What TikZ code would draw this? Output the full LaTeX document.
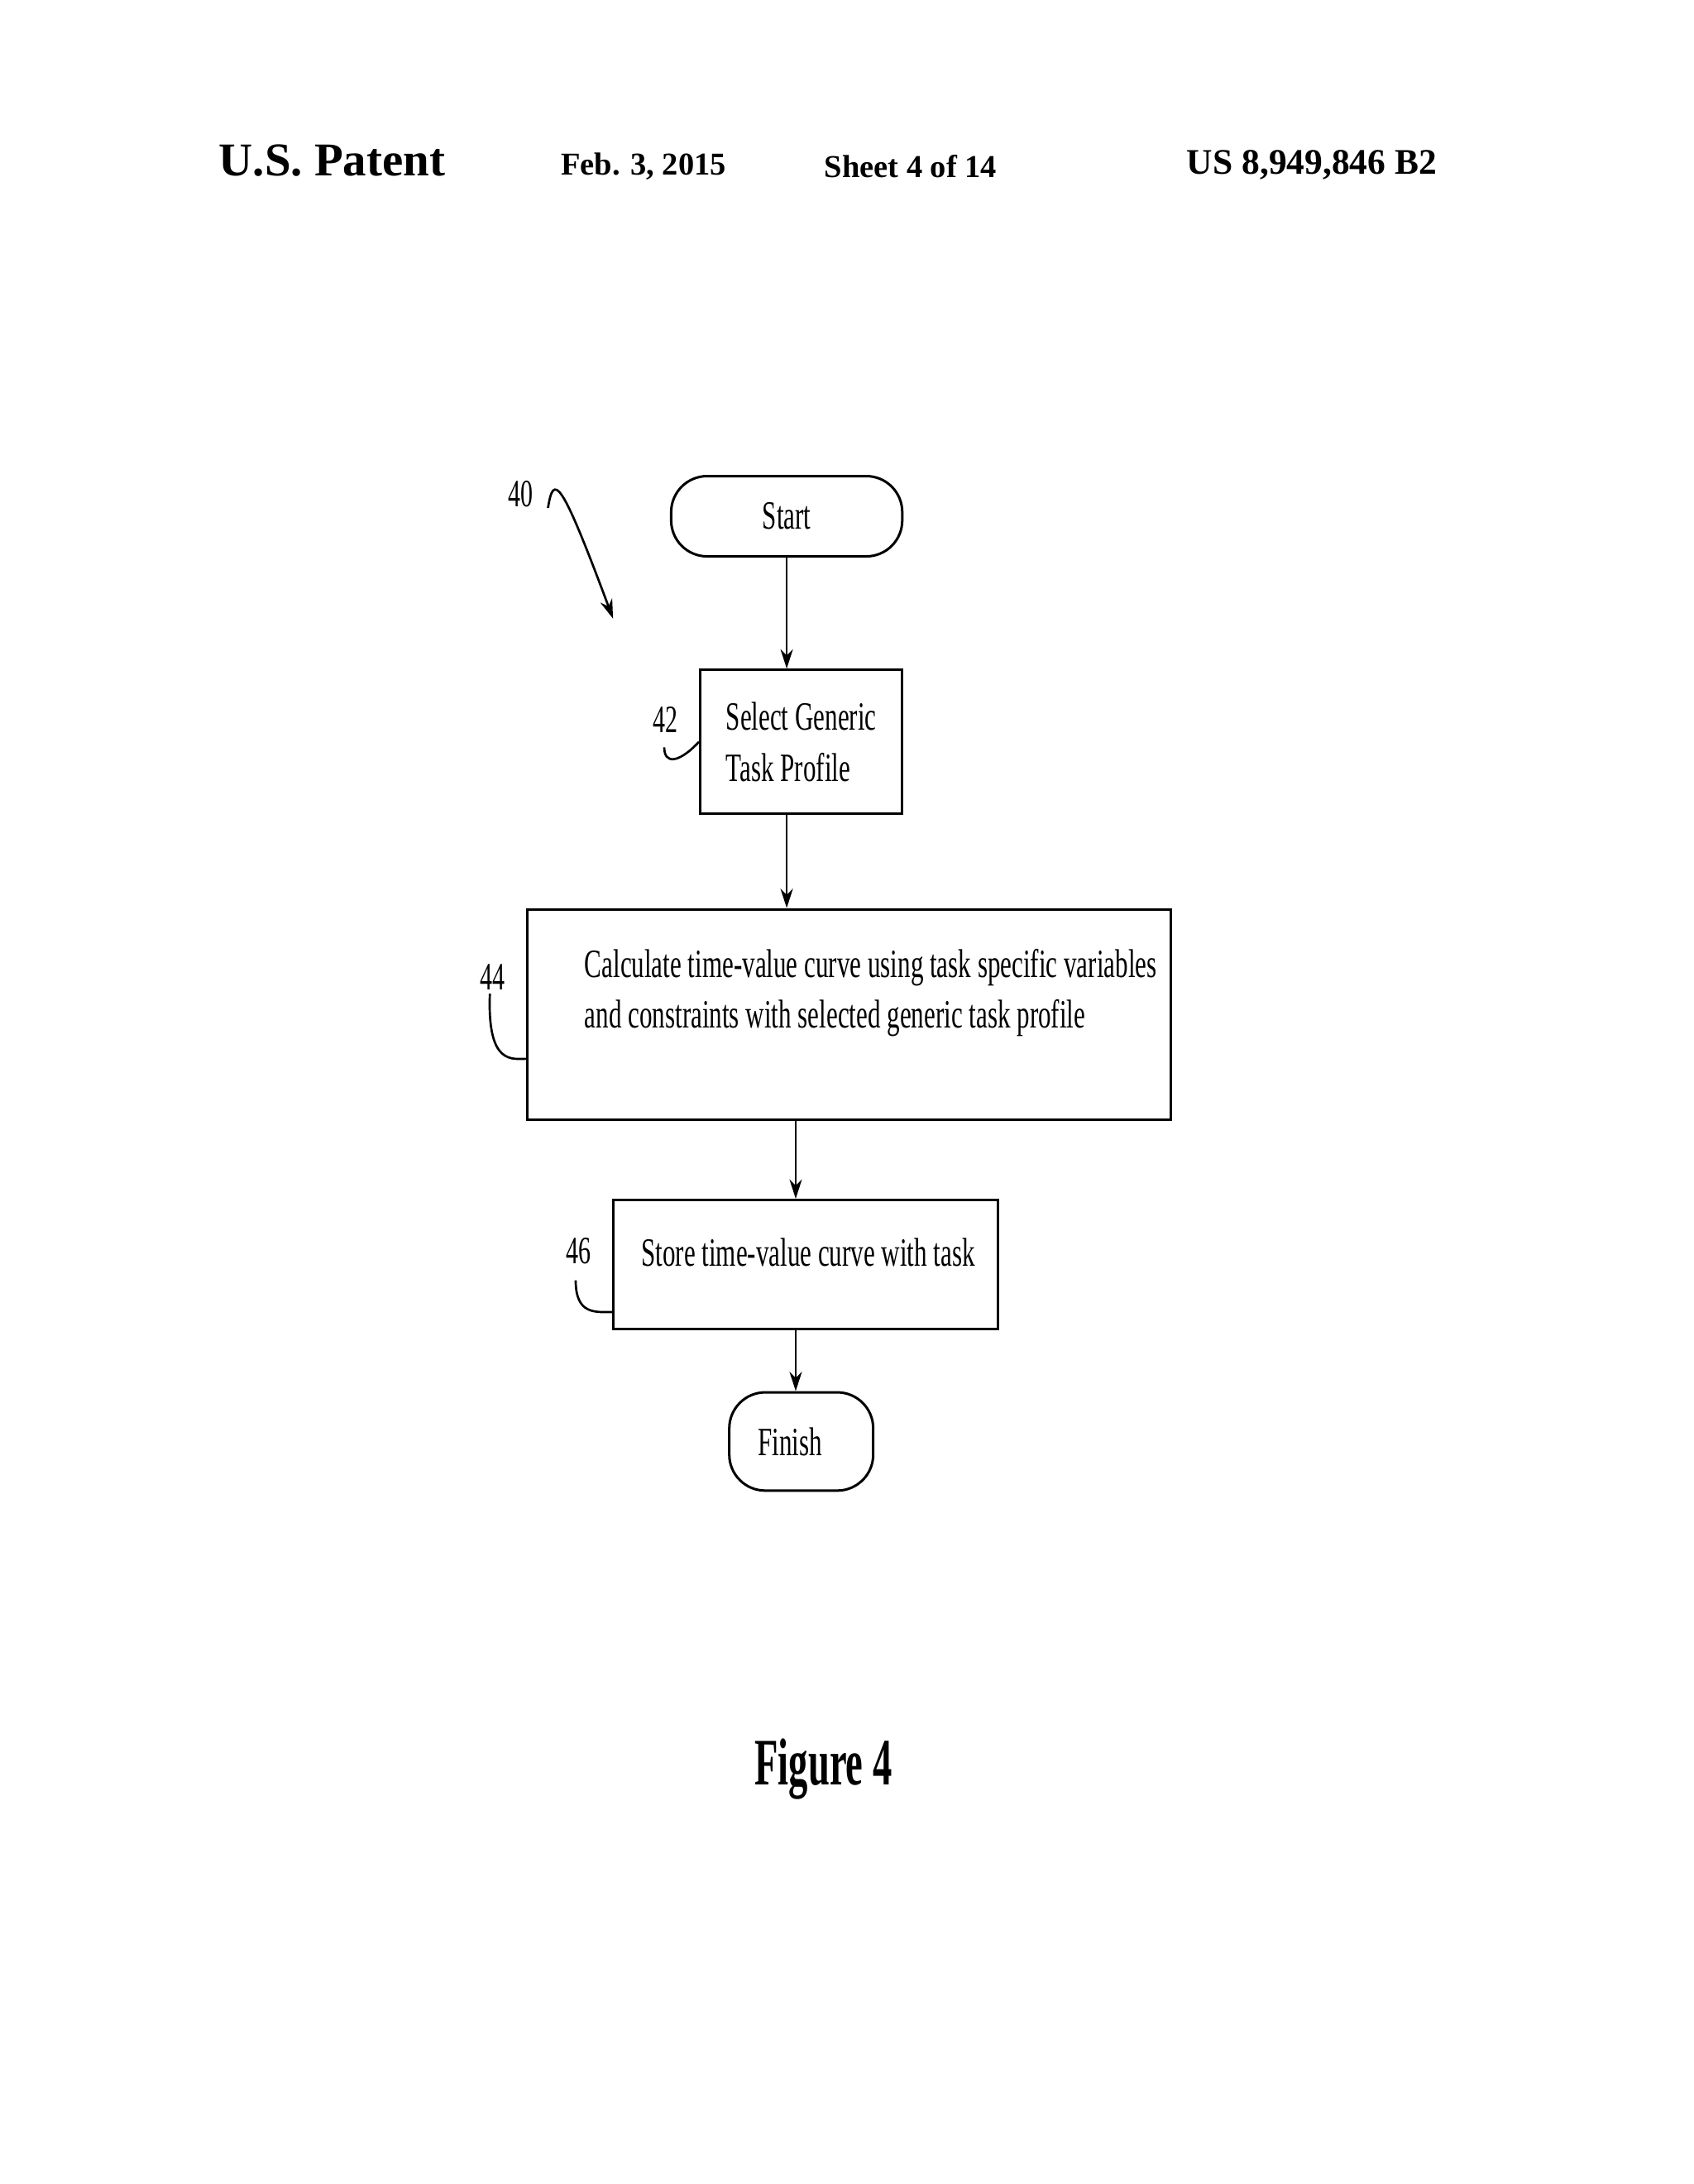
\documentclass[tikz,border=0pt]{standalone}
\usepackage{fontspec}
\setmainfont{Liberation Serif}
\newfontfamily\cond{Liberation Serif}[FakeStretch=0.64]
\newfontfamily\condb{Liberation Serif}[FakeStretch=0.58]
\usetikzlibrary{arrows.meta}
\begin{document}
\begin{tikzpicture}[x=1pt,y=-1pt,
  box/.style={draw,line width=1.8pt,inner sep=0pt,font=\cond\fontsize{29}{37}\selectfont},
  term/.style={box,rounded corners=26pt},
  lab/.style={font=\cond\fontsize{28}{30}\selectfont},
  arr/.style={line width=1.6pt,-{Stealth[length=14pt,width=9pt]}},
  lead/.style={line width=1.6pt}]
\useasboundingbox (0,0) rectangle (1224,1578);
\node[font=\bfseries\fontsize{34}{36}\selectfont] (h1) at (240,116) {U.S. Patent};
\node[font=\bfseries\fontsize{23}{25}\selectfont] (h2) at (465,120) {Feb. 3, 2015};
\node[font=\bfseries\fontsize{23}{25}\selectfont] (h3) at (658,120) {Sheet 4 of 14};
\node[font=\bfseries\fontsize{26}{28}\selectfont] (h4) at (948,119) {US 8,949,846 B2};
\node[term,minimum width=167pt,minimum height=58pt] (s) at (568.5,373) {Start};
\node[box,minimum width=146pt,minimum height=104pt,align=left] (b42) at (579,536) {Select Generic\\Task Profile};
\node[box,minimum width=465pt,minimum height=152pt] (b44) at (613.5,733) {};
\node[font=\cond\fontsize{29}{37}\selectfont,align=left,anchor=north west] (t44) at (419,682) {Calculate time-value curve using task specific variables\\and constraints with selected generic task profile};
\node[box,minimum width=278pt,minimum height=93pt] (b46) at (582,913.5) {};
\node[font=\cond\fontsize{29}{37}\selectfont] (t46) at (584,905) {Store time-value curve with task};
\node[term,minimum width=104pt,minimum height=71pt] (f) at (579,1041.5) {\hspace*{-16pt}Finish};
\draw[arr] (s.south) -- (b42.north -| s.south);
\draw[arr] (b42.south -| s.south) -- (b44.north -| s.south);
\coordinate (a3) at (575,809);
\draw[arr] (b44.south -| a3) -- (b46.north -| a3);
\draw[arr] (b46.south -| a3) -- (f.north -| a3);
\node[lab] (l40) at (376,357) {40};
\node[lab] (l42) at (481,520) {42};
\node[lab] (l44) at (356,706) {44};
\node[lab] (l46) at (418,904) {46};
\coordinate (c40) at (443,447);
\draw[arr] (396,367) .. controls (400,342) and (405,345) .. (c40);
\draw[lead] (480,540) .. controls (480,552) and (490,552) .. (b42.west);
\draw[lead] (354,718) .. controls (352,770) and (370,765) .. (381,765);
\draw[lead] (416,925) .. controls (416,950) and (430,948) .. (443,948);
\node[font=\bfseries\condb\fontsize{48}{50}\selectfont] (fig) at (595,1278) {Figure 4};
\end{tikzpicture}
\end{document}
